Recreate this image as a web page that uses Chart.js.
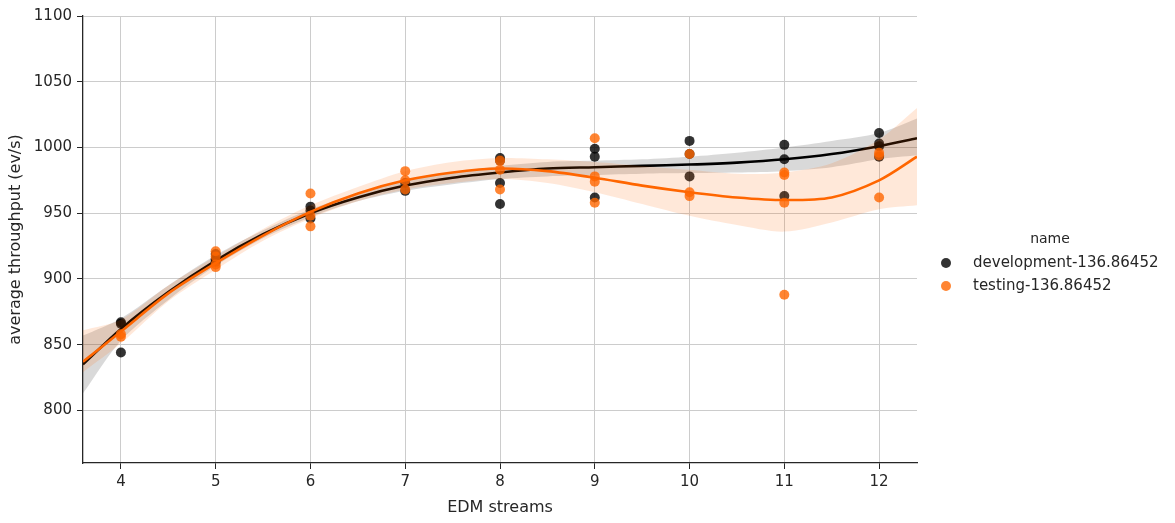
<!DOCTYPE html>
<html>
<head>
<meta charset="utf-8">
<script src="https://cdn.jsdelivr.net/npm/chart.js@4"></script>
<style>
  body { margin: 0; background: #fff; }
  #wrap { position: relative; width: 1175px; height: 523px; }
  #legend { position: absolute; left: 930px; top: 230px; font-family: 'DejaVu Sans', sans-serif; color: #262626; }
  #legend .title { font-size: 14px; text-align: center; width: 240px; margin-bottom: 5px; }
  #legend .row { font-size: 15px; height: 23px; line-height: 23px; white-space: nowrap; }
  #legend .dot { display: inline-block; width: 10px; height: 10px; border-radius: 50%; margin: 0 22px 0 11px; vertical-align: -1px; }
</style>
</head>
<body>
<div id="wrap">
  <canvas id="chart" width="1175" height="523"></canvas>
  <div id="legend">
    <div class="title">name</div>
    <div class="row"><span class="dot" style="background:#333333"></span>development-136.86452</div>
    <div class="row"><span class="dot" style="background:#ff8533"></span>testing-136.86452</div>
  </div>
</div>
<script>
// scatter data
const devX = [4, 4, 4, 5, 5, 5, 6, 6, 6, 7, 7, 8, 8, 8, 8, 9, 9, 9, 10, 10, 10, 11, 11, 11, 12, 12, 12, 12];
const devY = [867, 866, 844, 919, 915, 913, 955, 952, 946, 973, 967, 992, 990, 973, 957, 999, 993, 962, 1005, 995, 978, 1002, 991, 963, 1011, 1003, 1001, 993];
const testX = [4, 4, 5, 5, 5, 5, 6, 6, 6, 7, 7, 7, 8, 8, 8, 9, 9, 9, 9, 10, 10, 10, 11, 11, 11, 11, 12, 12, 12];
const testY = [858, 856, 921, 917, 911, 909, 965, 948, 940, 982, 975, 968, 990, 983, 968, 1007, 978, 974, 958, 995, 966, 963, 981, 979, 958, 888, 994, 996, 962];

// fitted curves and confidence bands
const fitX = [3.6, 4, 4.5, 5, 5.5, 6, 6.5, 7, 7.5, 8, 8.5, 9, 9.5, 10, 10.5, 11, 11.5, 12, 12.4];
const devFit = [835, 862, 890, 914, 934, 950, 962, 971, 977, 981, 984, 985, 986, 987, 988.5, 991, 995, 1001, 1007];
const devHi = [857, 870, 895, 918, 937, 953, 965, 975, 981, 986, 989, 990, 991, 993, 996, 1000, 1005, 1011, 1022];
const devLo = [813, 853, 884, 910, 931, 947, 959, 967, 972, 976, 978, 979, 980, 980.5, 981, 982, 985, 991, 994];
const testFit = [837, 860, 889, 912, 933, 951, 965, 975, 981, 984, 982, 977, 971, 966, 962, 960, 962, 975, 993];
const testHi = [861, 869, 895, 917, 938, 956, 970, 982, 989, 992, 991, 989, 986, 983, 980, 981, 988, 1006, 1030];
const testLo = [829, 851, 883, 907, 929, 946, 959, 968, 973, 976, 973, 966, 957, 948, 941, 936, 943, 953, 956];

const xTicks = [4, 5, 6, 7, 8, 9, 10, 11, 12];
const yTicks = [800, 850, 900, 950, 1000, 1050, 1100];

const pts = (xs, ys) => xs.map((x, i) => ({ x: x, y: ys[i] }));
const TXT = '#262626';
const FONT = 'DejaVu Sans';

function curve(ys, color, width, order, fill, bg) {
    return {
        type: 'line',
        data: pts(fitX, ys),
        borderColor: color,
        borderWidth: width,
        pointRadius: 0,
        tension: 0.3,
        fill: fill || false,
        backgroundColor: bg || 'transparent',
        order: order
    };
}

new Chart(document.getElementById('chart'), {
    type: 'scatter',
    data: {
        datasets: [
            { type: 'scatter', data: pts(devX, devY), backgroundColor: 'rgba(0,0,0,0.8)', borderWidth: 0, pointRadius: 5, order: 7 },
            curve(devHi, 'transparent', 0, 6),
            curve(devLo, 'transparent', 0, 6, { target: 1 }, 'rgba(0,0,0,0.15)'),
            curve(devFit, '#000000', 2.6, 5),
            { type: 'scatter', data: pts(testX, testY), backgroundColor: 'rgba(255,102,0,0.8)', borderWidth: 0, pointRadius: 5, order: 4 },
            curve(testHi, 'transparent', 0, 3),
            curve(testLo, 'transparent', 0, 3, { target: 5 }, 'rgba(255,102,0,0.15)'),
            curve(testFit, '#ff6600', 2.6, 2)
        ]
    },
    options: {
        responsive: false,
        animation: false,
        layout: { padding: { top: 16, right: 258, bottom: 0, left: 0 } },
        plugins: { legend: { display: false }, tooltip: { enabled: false } },
        scales: {
            x: {
                type: 'linear',
                min: 3.6,
                max: 12.4,
                afterBuildTicks: s => { s.ticks = xTicks.map(v => ({ value: v })); },
                afterFit: s => { s.height = 60; },
                grid: { color: '#cccccc', lineWidth: 1, tickColor: TXT, tickLength: 6 },
                border: { color: TXT, width: 1.3 },
                ticks: { color: TXT, font: { family: FONT, size: 15 }, padding: 4, maxRotation: 0, callback: v => String(v) },
                title: { display: true, text: 'EDM streams', color: TXT, font: { family: FONT, size: 16 }, padding: { top: 0, bottom: 6 } }
            },
            y: {
                min: 760,
                max: 1100,
                afterBuildTicks: s => { s.ticks = yTicks.map(v => ({ value: v })); },
                afterFit: s => { s.width = 83; },
                grid: { color: '#cccccc', lineWidth: 1, tickColor: TXT, tickLength: 6 },
                border: { color: TXT, width: 1.3 },
                ticks: { color: TXT, font: { family: FONT, size: 15 }, padding: 5, callback: v => String(v) },
                title: { display: true, text: 'average throughput (ev/s)', color: TXT, font: { family: FONT, size: 16 }, padding: { top: 6, bottom: 0 } }
            }
        }
    }
});
</script>
</body>
</html>
